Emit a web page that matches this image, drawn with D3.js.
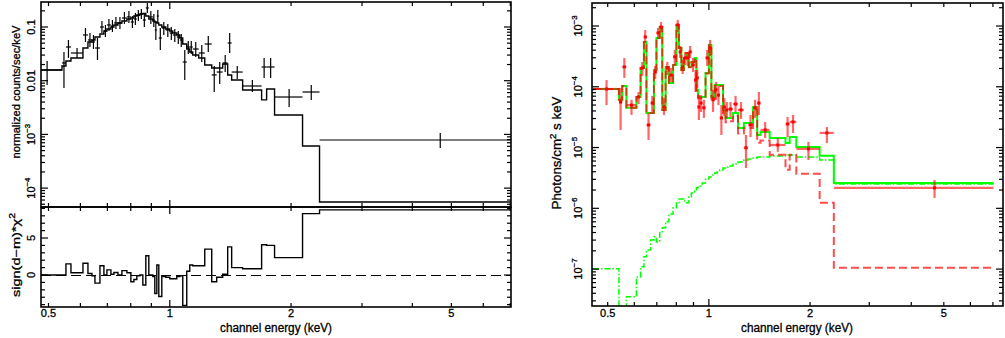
<!DOCTYPE html>
<html>
<head>
<meta charset="utf-8">
<script src="https://cdn.jsdelivr.net/npm/d3@7/dist/d3.min.js"></script>
<style>
  body { margin: 0; background: #fff; }
  text { font-family: "Liberation Sans", Arial, sans-serif; fill: #000; stroke: #000; stroke-width: 0.3px; }
</style>
</head>
<body>
<svg id="chart" width="1005" height="338"></svg>
<script>
//------------------- données (bins en keV, partagés par les deux graphes) -------------------

var binEdges = [0.452, 0.540, 0.5524, 0.5684, 0.6088, 0.6264, 0.6409, 0.6520, 0.6709, 0.6863,
  0.6982, 0.7143, 0.7267, 0.7435, 0.7607, 0.7826, 0.8006, 0.8146, 0.8283, 0.8428,
  0.8573, 0.8720, 0.8871, 0.9077, 0.9180, 0.9286, 0.9391, 0.9554, 0.9775, 1.000,
  1.0173, 1.0408, 1.0588, 1.0770, 1.1019, 1.1209, 1.1402, 1.1798, 1.2212, 1.2709,
  1.3076, 1.3530, 1.3922, 1.4243, 1.5165, 1.6902, 1.7393, 1.8200, 2.1357, 2.3534, 7.03];

// left: normalized counts/sec/keV
var cntModel = [0.0158, 0.0188, 0.0233, 0.0265, 0.0406, 0.0526, 0.0573, 0.0651, 0.0741, 0.0842,
  0.0918, 0.100, 0.109, 0.119, 0.129, 0.141, 0.147, 0.160, 0.167, 0.175,
  0.178, 0.160, 0.141, 0.129, 0.124, 0.119, 0.109, 0.100, 0.0918, 0.0842,
  0.0773, 0.0710, 0.0624, 0.0482, 0.0389, 0.0342, 0.0301, 0.0265, 0.0196, 0.0172,
  0.0172, 0.0205, 0.0128, 0.0103, 0.0067, 0.0044, 0.0070, 0.0023, 0.00061, 0.000055];
var cntData = [0.0158, 0.0214, 0.0424, 0.0328, 0.0710, 0.0573, 0.0526, 0.0406, 0.100, 0.0842,
  0.109, 0.104, 0.119, 0.119, 0.147, 0.154, 0.124, 0.141, 0.164, 0.175,
  0.135, 0.226, 0.154, 0.135, 0.0879, 0.160, 0.0624, 0.0958, 0.0879, 0.0773,
  0.0710, 0.0651, 0.0573, 0.0223, 0.0424, 0.0424, 0.0389, 0.0328, 0.0482, 0.0128,
  0.0145, 0.0214, 0.0504, 0.0145, 0.00797, 0.0180, 0.0180, 0.00497, 0.00616, 0.000786];
var cntLo = [0.00832, 0.00731, 0.0265, 0.0265, 0.0526, 0.0424, 0.0389, 0.0243, 0.0773, 0.0651,
  0.0842, 0.0807, 0.0918, 0.0918, 0.114, 0.119, 0.0958, 0.109, 0.129, 0.141,
  0.100, 0.182, 0.114, 0.100, 0.0573, 0.119, 0.0373, 0.0710, 0.0651, 0.0573,
  0.0526, 0.0482, 0.0424, 0.0103, 0.0314, 0.0314, 0.0276, 0.0223, 0.0342, 0.00616,
  0.00868, 0.0145, 0.0328, 0.0108, 0.00616, 0.0112, 0.0112, 0.00324, 0.00437, 0.000558];
var cntHi = [0.0233, 0.0342, 0.0573, 0.0406, 0.0958, 0.0773, 0.0710, 0.0624, 0.129, 0.109,
  0.141, 0.135, 0.154, 0.154, 0.190, 0.199, 0.160, 0.182, 0.207, 0.216,
  0.175, 0.280, 0.199, 0.175, 0.124, 0.207, 0.0958, 0.124, 0.114, 0.100,
  0.0918, 0.0842, 0.0741, 0.0373, 0.0549, 0.0549, 0.0526, 0.0462, 0.0680, 0.0188,
  0.0223, 0.0301, 0.0773, 0.0188, 0.0103, 0.0265, 0.0265, 0.00701, 0.00832, 0.00106];

// left: sign(d-m)*chi^2
var chiRes = [0, 0, 1.5, 0.3, 1.6, 0.2, -0.1, -1.1, 1.25, 0,
  0.7, 0.1, 0.35, 0, 0.6, 0.3, -0.9, -0.6, -0.1, 0,
  -1.35, 2.6, 0, -0.2, -2.5, 1.35, -2.9, -0.2, -0.3, -0.5,
  -0.5, -0.2, -0.1, -4.1, 0.5, 1.35, 1.25, 1.25, 3.5, -0.9,
  -0.3, 0.1, 3.8, 1.0, 0.85, 4.1, 4.0, 2.35, 8.3, 8.8];

// right: Photons/cm2 s keV
var phData = [9.2e-5, 5.6e-5, 2.12e-4, 5.0e-5, 6.8e-5, 2.04e-4, 6.6e-4, 2.35e-5, 5.4e-5, 1.75e-4,
  7.7e-4, 9.6e-4, 4.65e-5, 2.04e-4, 1.56e-4, 3.1e-4, 1.04e-3, 3.74e-4, 2.12e-4, 2.98e-4,
  2.98e-4, 3.74e-4, 2.28e-4, 1.29e-4, 1.40e-4, 4.65e-5, 5.4e-5, 4.5e-5, 2.98e-4, 4.35e-4,
  6.1e-5, 8.9e-5, 7.3e-5, 3.07e-5, 4.65e-5, 4.15e-5, 4.3e-5, 5.2e-5, 4.15e-5, 9.9e-6,
  2.35e-5, 4.5e-5, 5.4e-5, 1.95e-5, 1.10e-5, 2.44e-5, 2.64e-5, 9.5e-6, 1.74e-5, 2.17e-6];
var phLo = [5.0e-5, 1.95e-5, 1.40e-4, 3.44e-5, 5.2e-5, 1.51e-4, 5.25e-4, 1.33e-5, 3.85e-5, 1.34e-4,
  6.1e-4, 8.0e-4, 3.44e-5, 1.56e-4, 1.20e-4, 2.28e-4, 8.0e-4, 2.98e-4, 1.62e-4, 2.28e-4,
  2.2e-4, 2.98e-4, 1.75e-4, 8.2e-5, 9.6e-5, 2.84e-5, 3.85e-5, 3.07e-5, 2.2e-4, 3.21e-4,
  3.85e-5, 6.1e-5, 5.0e-5, 1.61e-5, 3.31e-5, 3.07e-5, 3.19e-5, 3.85e-5, 2.95e-5, 4.6e-6,
  1.49e-5, 3.07e-5, 3.44e-5, 1.44e-5, 8.5e-6, 1.49e-5, 1.74e-5, 6.25e-6, 1.19e-5, 1.48e-6];
var phHi = [1.29e-4, 9.6e-5, 2.98e-4, 6.1e-5, 8.2e-5, 2.56e-4, 8.6e-4, 3.71e-5, 7.1e-5, 2.2e-4,
  9.3e-4, 1.16e-3, 6.5e-5, 2.56e-4, 2.04e-4, 4.03e-4, 1.26e-3, 4.69e-4, 2.76e-4, 3.74e-4,
  3.74e-4, 4.69e-4, 2.98e-4, 1.89e-4, 1.89e-4, 7.3e-5, 7.3e-5, 6.1e-5, 4.03e-4, 5.9e-4,
  8.9e-5, 1.20e-4, 1.03e-4, 5.0e-5, 6.5e-5, 5.6e-5, 5.6e-5, 7.1e-5, 5.6e-5, 1.61e-5,
  3.44e-5, 6.1e-5, 8.2e-5, 2.64e-5, 1.44e-5, 3.19e-5, 3.44e-5, 1.24e-5, 2.18e-5, 2.93e-6];
var phTotal = [9.2e-5, 6.1e-5, 1.03e-4, 4.5e-5, 6.8e-5, 2.04e-4, 5.45e-4, 3.7e-5, 3.7e-5, 1.89e-4,
  6.35e-4, 9.6e-4, 4.15e-5, 2.12e-4, 1.15e-4, 2.28e-4, 1.04e-3, 4.35e-4, 1.89e-4, 2.98e-4,
  3.6e-4, 2.12e-4, 2.56e-4, 2.98e-4, 8.9e-5, 6.8e-5, 6.8e-5, 6.8e-5, 1.69e-4, 4.87e-4,
  6.8e-5, 1.07e-4, 1.07e-4, 1.07e-4, 4.15e-5, 3.07e-5, 3.07e-5, 3.7e-5, 2.1e-5, 2.54e-5,
  2.54e-5, 4.65e-5, 1.61e-5, 1.81e-5, 1.44e-5, 1.19e-5, 1.49e-5, 1.02e-5, 7.3e-6, 2.62e-6];
var phComp1 = [9.2e-5, 6.1e-5, 1.03e-4, 4.5e-5, 6.8e-5, 2.04e-4, 5.45e-4, 3.7e-5, 3.7e-5, 1.89e-4,
  6.35e-4, 9.6e-4, 4.15e-5, 2.12e-4, 1.15e-4, 2.28e-4, 1.04e-3, 4.35e-4, 1.89e-4, 2.97e-4,
  3.59e-4, 2.1e-4, 2.54e-4, 2.96e-4, 8.6e-5, 6.5e-5, 6.5e-5, 6.5e-5, 1.66e-4, 4.84e-4,
  6.4e-5, 1.03e-4, 1.03e-4, 1.03e-4, 3.7e-5, 2.6e-5, 2.7e-5, 3.3e-5, 1.7e-5, 2.1e-5,
  2.1e-5, 4.2e-5, 1.2e-5, 1.3e-5, 7.6e-6, 4.3e-6, 7.6e-6, 3.7e-6, 1.23e-6, 1.05e-7];
var phComp2 = [1.01e-7, 1e-8, 1e-8, 3.5e-8, 7.4e-8, 1.09e-7, 1.59e-7, 2.07e-7, 3.0e-7, 3.4e-7,
  2.8e-7, 4.1e-7, 4.8e-7, 6.0e-7, 8.1e-7, 1.02e-6, 1.23e-6, 1.43e-6, 1.43e-6, 1.32e-6,
  1.23e-6, 1.54e-6, 1.79e-6, 1.93e-6, 2.17e-6, 2.25e-6, 2.34e-6, 2.62e-6, 3.04e-6, 3.28e-6,
  3.54e-6, 3.82e-6, 3.97e-6, 4.28e-6, 4.62e-6, 4.8e-6, 4.98e-6, 5.37e-6, 5.8e-6, 6.25e-6,
  6.49e-6, 6.74e-6, 7.0e-6, 7.0e-6, 7.27e-6, 7.55e-6, 7.55e-6, 7.0e-6, 6.25e-6, 2.52e-6];

// tick labels ("^...^" = exposant)
var energyTicks = [0.5, 1, 2, 5];
var energyTickText = ["0.5", "1", "2", "5"];
var cntTicks = [0.1, 0.01, 1e-3, 1e-4];
var cntTickText = ["0.1", "0.01", "10^\u22123", "10^\u22124"];
var chiTicks = [0, 5];
var chiTickText = ["0", "5"];
var phTicks = [1e-3, 1e-4, 1e-5, 1e-6, 1e-7];
var phTickText = ["10^\u22123", "10^\u22124", "10^\u22125", "10^\u22126", "10^\u22127"];

//------------------- échelles -------------------

var xL = d3.scaleLog().domain([0.479, 7.03]).range([41, 511]);
var yCnt = d3.scaleLog().domain([4.45e-5, 0.292]).range([207, 2]);
var yChi = d3.scaleLinear().domain([-4.32, 9.19]).range([307, 207]);
var xR = d3.scaleLog().domain([0.449, 7.5]).range([592, 1003]);
var yPh = d3.scaleLog().domain([2.47e-8, 2.39e-3]).range([306, 3]);

var svg = d3.select("#chart");
var defs = svg.append("defs");

//------------------- outils -------------------

function zone(id, x, y) {
    defs.append("clipPath").attr("id", id).append("rect")
        .attr("x", x.range()[0]).attr("y", y.range()[1])
        .attr("width", x.range()[1] - x.range()[0])
        .attr("height", y.range()[0] - y.range()[1]);
    return svg.append("g").attr("clip-path", "url(#" + id + ")");
}

// centre d'un bin (milieu en énergie)
function centre(i) {
    return (binEdges[i] + binEdges[i + 1]) / 2;
}

// histogramme en escalier sur les bins
function histo(g, x, y, vals) {
    var pts = [];
    vals.forEach(function(v, i) {
        pts.push([binEdges[i], v], [binEdges[i + 1], v]);
    });
    return g.append("path")
        .attr("fill", "none")
        .attr("d", d3.line().x(d => x(d[0])).y(d => y(d[1]))(pts));
}

// croix de données : largeur du bin + barre d'erreur
function croix(g, x, y, vals, lo, hi) {
    var sel = g.append("g").selectAll("g").data(vals).enter().append("g");
    sel.append("line")
        .attr("x1", (d, i) => x(binEdges[i])).attr("x2", (d, i) => x(binEdges[i + 1]))
        .attr("y1", d => y(d)).attr("y2", d => y(d));
    sel.append("line")
        .attr("x1", (d, i) => x(centre(i))).attr("x2", (d, i) => x(centre(i)))
        .attr("y1", (d, i) => y(lo[i])).attr("y2", (d, i) => y(hi[i]));
    return sel;
}

function isDecade(v) {
    var l = Math.log10(v);
    return Math.abs(l - Math.round(l)) < 1e-6;
}

function cadre(x, y, yTicks, yMajor) {
    var x0 = x.range()[0], x1 = x.range()[1], yb = y.range()[0], yt = y.range()[1];
    var g = svg.append("g").attr("stroke", "#000").attr("stroke-width", 1.2);
    x.ticks().forEach(function(v) {
        var L = isDecade(v) ? 7 : 4, px = x(v);
        g.append("line").attr("x1", px).attr("x2", px).attr("y1", yb).attr("y2", yb - L);
        g.append("line").attr("x1", px).attr("x2", px).attr("y1", yt).attr("y2", yt + L);
    });
    yTicks.forEach(function(v) {
        var L = yMajor(v) ? 7 : 4, py = y(v);
        g.append("line").attr("x1", x0).attr("x2", x0 + L).attr("y1", py).attr("y2", py);
        g.append("line").attr("x1", x1).attr("x2", x1 - L).attr("y1", py).attr("y2", py);
    });
    g.append("rect").attr("x", x0).attr("y", yt)
        .attr("width", x1 - x0).attr("height", yb - yt)
        .attr("fill", "none").attr("stroke-width", 1.6);
}

function texteRiche(t, str, size) {
    str.split("^").forEach(function(s, k) {
        if (!s) return;
        var ts = t.append("tspan").text(s);
        if (k % 2 == 1) ts.attr("dy", -0.42 * size).style("font-size", (0.72 * size) + "px");
        else if (k > 0) ts.attr("dy", 0.42 * size);
    });
    return t;
}

function etiquette(x, y, str, size, rot, len) {
    var t = svg.append("text")
        .attr("transform", "translate(" + x + "," + y + ")" + (rot ? " rotate(-90)" : ""))
        .attr("text-anchor", "middle")
        .style("font-size", size + "px");
    texteRiche(t, str, size);
    if (len) t.attr("textLength", len).attr("lengthAdjust", "spacingAndGlyphs");
    return t;
}

//------------------- graphe de gauche : spectre + résidus -------------------

var gCnt = zone("clipCnt", xL, yCnt);
histo(gCnt, xL, yCnt, cntModel).attr("stroke", "#000").attr("stroke-width", 1.4);
croix(gCnt, xL, yCnt, cntData, cntLo, cntHi).attr("stroke", "#000").attr("stroke-width", 1.2);

var gChi = zone("clipChi", xL, yChi);
gChi.append("line")
    .attr("x1", xL.range()[0]).attr("x2", xL.range()[1])
    .attr("y1", Math.round(yChi(0)) + 0.5).attr("y2", Math.round(yChi(0)) + 0.5)
    .attr("stroke", "#000").attr("stroke-width", 1.2).attr("stroke-dasharray", "10,5");
histo(gChi, xL, yChi, chiRes).attr("stroke", "#000").attr("stroke-width", 1.4);

cadre(xL, yCnt, yCnt.ticks(), isDecade);
cadre(xL, yChi, d3.range(-4, 10), v => v % 5 == 0);

energyTicks.forEach(function(v, i) { etiquette(xL(v), 317, energyTickText[i], 11, false); });
cntTicks.forEach(function(v, i) { etiquette(35, yCnt(v), cntTickText[i], 11, true); });
chiTicks.forEach(function(v, i) { etiquette(35, yChi(v), chiTickText[i], 11, true); });

etiquette(276, 332, "channel energy (keV)", 12, false, 112);
etiquette(20, 92, "normalized counts/sec/keV", 11.5, true, 133);
etiquette(20, 255, "sign(d\u2212m)*\u03c7^2^", 11.5, true, 84);

//------------------- graphe de droite : spectre déplié -------------------

var gPh = zone("clipPh", xR, yPh);
histo(gPh, xR, yPh, phComp2).attr("stroke", "#00ff00").attr("stroke-width", 1.5)
    .attr("stroke-dasharray", "6,2,1.5,2");
histo(gPh, xR, yPh, phTotal).attr("stroke", "#00ff00").attr("stroke-width", 2);
histo(gPh, xR, yPh, phComp1).attr("stroke", "#ff0000").attr("stroke-opacity", 0.7)
    .attr("stroke-width", 2).attr("stroke-dasharray", "8,4");
croix(gPh, xR, yPh, phData, phLo, phHi)
    .attr("stroke", "#ff0000").attr("stroke-opacity", 0.6).attr("stroke-width", 2.2);
gPh.append("g").selectAll("rect").data(phData).enter().append("rect")
    .attr("x", (d, i) => xR(centre(i)) - 1.5)
    .attr("y", d => yPh(d) - 1.5)
    .attr("width", 3).attr("height", 3)
    .attr("fill", "#ff0000");

cadre(xR, yPh, yPh.ticks(), isDecade);

energyTicks.forEach(function(v, i) { etiquette(xR(v), 317, energyTickText[i], 11, false); });
phTicks.forEach(function(v, i) { etiquette(582, yPh(v), phTickText[i], 11, true); });

etiquette(797, 332, "channel energy (keV)", 12, false, 112);
etiquette(561, 153, "Photons/cm^2^ s keV", 12, true, 113);
</script>
</body>
</html>
